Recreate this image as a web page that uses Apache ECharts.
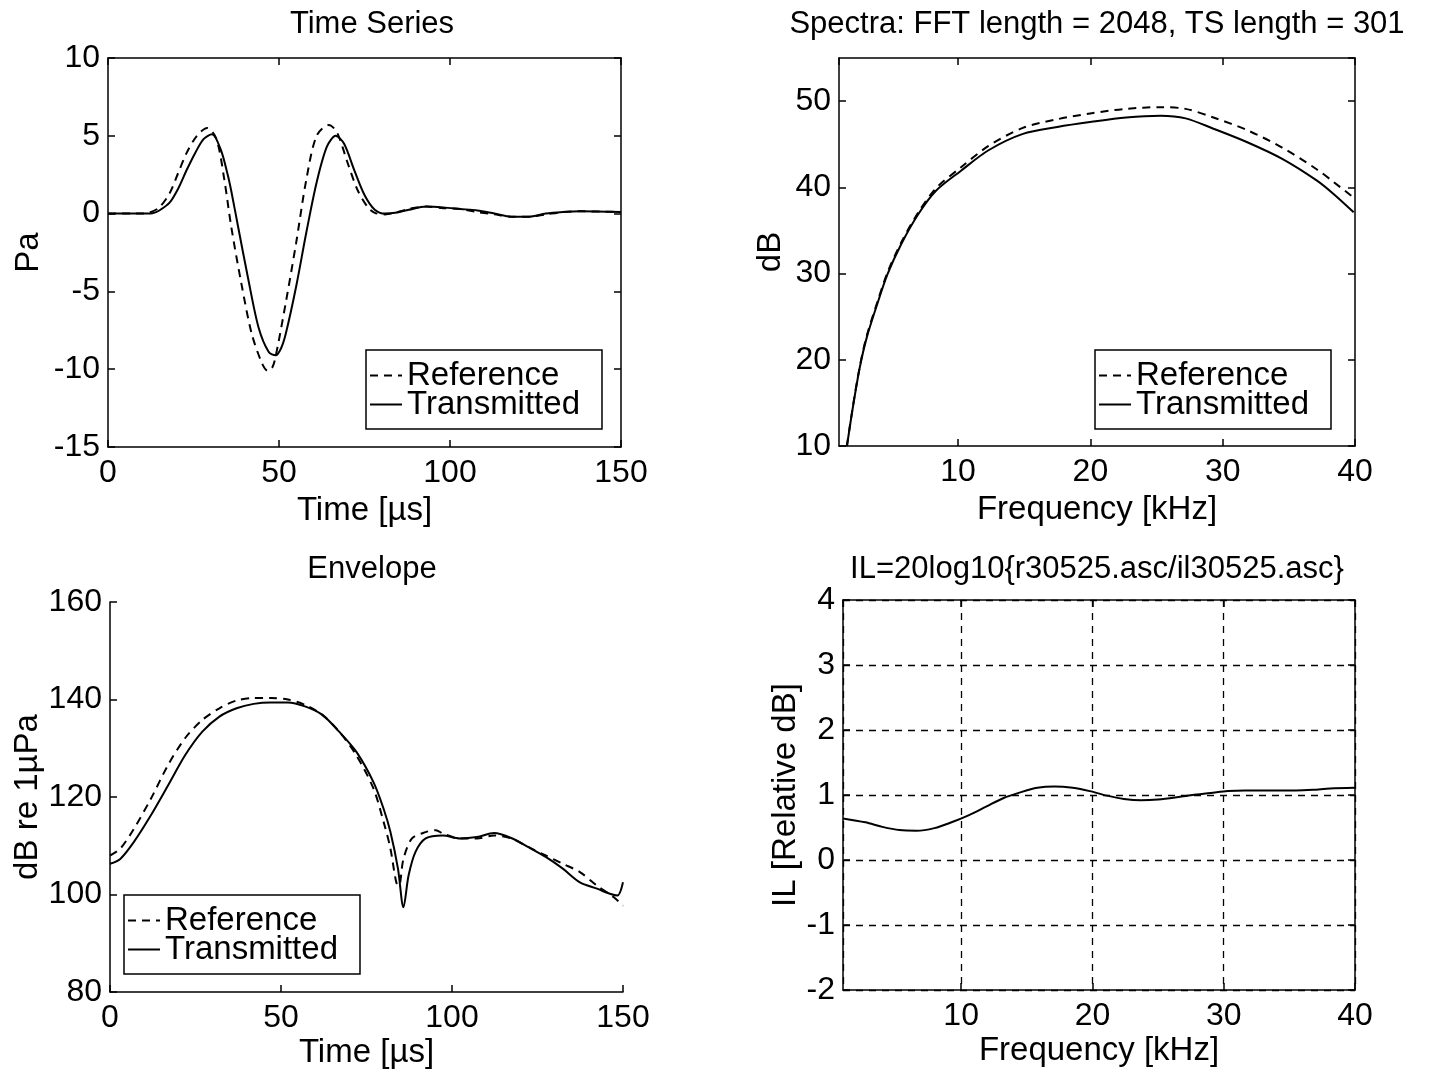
<!DOCTYPE html>
<html>
<head>
<meta charset="utf-8">
<script src="https://cdn.jsdelivr.net/npm/echarts@6/dist/echarts.min.js"></script>
<style>
  html, body { margin: 0; padding: 0; background: #fff; }
  #main { width: 1440px; height: 1072px; }
</style>
</head>
<body>
<div id="main"></div>
<script>
// time series [us] / [Pa]
const tsTimeRef = [0, 10, 12, 15, 18, 20.5, 23, 26, 29, 31.7, 34, 36, 39, 42, 45, 46.7, 48, 49, 52, 55, 58, 61, 64.6, 67, 70, 73, 76, 78, 81, 84, 88, 93, 98, 103, 108, 113, 118, 123, 128, 133, 138, 150];
const tsRef = [0, 0, 0.05, 0.4, 1.3, 2.6, 3.9, 5.0, 5.5, 4.8, 2.2, -0.8, -4.5, -7.7, -9.6, -10.1, -9.9, -9.2, -5.7, -1.9, 2.2, 5.0, 5.7, 5.2, 3.3, 1.5, 0.4, 0.05, -0.05, 0.05, 0.3, 0.45, 0.35, 0.3, 0.1, -0.05, -0.2, -0.2, -0.05, 0.1, 0.15, 0.1];
const tsTimeTr = [0, 10, 13, 15, 18, 20.5, 23, 25.5, 28, 30.4, 33, 35, 36, 38, 41, 44, 47, 49, 50.5, 52, 55, 58, 61, 64, 66.6, 69, 72, 75, 78, 81, 84, 88, 93, 98, 103, 108, 113, 118, 123, 128, 133, 138, 150];
const tsTr = [0, 0, 0.02, 0.2, 0.7, 1.6, 2.8, 3.9, 4.8, 5.1, 4.1, 2.5, 1.5, -0.8, -4.2, -7.3, -8.9, -9.1, -8.7, -7.7, -4.7, -1.2, 2.0, 4.3, 5.0, 4.5, 2.8, 1.2, 0.25, 0, 0.05, 0.25, 0.45, 0.4, 0.3, 0.2, 0, -0.2, -0.2, 0, 0.1, 0.15, 0.1];

// spectra [kHz] / [dB]
const spFreqRef = [1.6, 2.05, 2.57, 3.1, 3.9, 4.66, 5.7, 7.0, 8.33, 10.2, 12.3, 14.9, 17.5, 20.1, 22.7, 25.3, 27.2, 29.3, 31.9, 34.5, 37.1, 38.4, 39.9];
const spRef = [10, 14.6, 19.2, 22.8, 26.7, 30.1, 33.6, 37.1, 39.9, 42.3, 44.8, 46.9, 47.9, 48.6, 49.1, 49.3, 49.1, 48.1, 46.6, 44.6, 42.1, 40.6, 38.8];
const spFreqTr = [1.6, 2.05, 2.57, 3.1, 3.9, 4.66, 5.7, 7.0, 8.33, 10.2, 12.3, 14.9, 17.5, 20.1, 22.7, 25.3, 27.2, 29.3, 31.9, 34.5, 37.1, 38.4, 39.9];
const spTr = [10, 14.5, 19.1, 22.6, 26.5, 29.9, 33.4, 36.9, 39.6, 41.9, 44.3, 46.2, 47.0, 47.6, 48.1, 48.3, 48.0, 46.8, 45.2, 43.3, 40.8, 39.2, 37.1];

// envelope [us] / [dB re 1uPa]
const envTimeRef = [0, 3, 7, 12, 17, 22, 27, 32, 37, 42, 47, 52, 57, 62, 67, 72, 77, 80, 82, 83.7, 84.5, 85.8, 88.3, 92.3, 95.3, 97.3, 102.3, 107.3, 112.3, 117.3, 122.4, 127.4, 132.4, 137.4, 142.4, 147.4, 150];
const envRef = [108, 109.4, 113.5, 119.7, 126.6, 132.1, 135.8, 138.2, 139.8, 140.3, 140.3, 140.0, 138.9, 136.9, 133.4, 128.6, 121.8, 114.9, 109.4, 102.5, 101.8, 107.3, 111.5, 112.8, 113.2, 112.5, 111.5, 111.5, 112.1, 111.5, 109.7, 108, 106.3, 104.6, 101.8, 99.4, 97.7];
const envTimeTr = [0, 3, 7, 12, 17, 22, 27, 32, 37, 42, 47, 52, 57, 62, 67, 72, 77, 80, 82, 84.2, 85.8, 87.3, 89.3, 92.3, 97.3, 102.3, 107.3, 112.3, 117.3, 122.4, 127.4, 132.4, 137.4, 142.4, 146.4, 148.4, 150];
const envTr = [106.3, 107.3, 110.8, 116.3, 122.4, 128.6, 133.4, 136.5, 138.2, 139.1, 139.4, 139.4, 138.6, 136.9, 133.4, 129.3, 123.1, 117.6, 112.8, 105.3, 97.4, 103.9, 108.7, 111.5, 112.1, 111.5, 111.8, 112.6, 111.6, 109.7, 107.7, 105.3, 102.5, 101.2, 100.1, 99.8, 102.5];

// insertion loss [kHz] / [relative dB]
const ilFreq = [1, 2.7, 4.0, 5.3, 6.6, 7.96, 9.27, 10.6, 11.9, 13.2, 14.5, 15.8, 17.1, 18.5, 19.8, 21.1, 22.4, 23.7, 25.0, 26.3, 27.6, 29.0, 30.3, 31.6, 32.9, 34.2, 35.5, 36.8, 38.1, 40];
const ilVal = [0.64, 0.58, 0.51, 0.46, 0.45, 0.49, 0.58, 0.69, 0.82, 0.95, 1.04, 1.11, 1.13, 1.11, 1.06, 0.99, 0.94, 0.92, 0.93, 0.96, 1.0, 1.03, 1.06, 1.07, 1.07, 1.07, 1.07, 1.08, 1.10, 1.11];

const font = 'Liberation Sans, Arial, Helvetica, sans-serif';
const black = '#000';
const tickFont = 32;
const nameFont = 33;

function pairs(xs, ys) {
    return xs.map(function (x, i) { return [x, ys[i]]; });
}

function xAx(grid, o, side) {
    const main = side !== 'top';
    return Object.assign({
        type: 'value', gridIndex: grid, position: main ? 'bottom' : 'top',
        axisLine: { show: true, onZero: false, lineStyle: { color: black, width: 1.5 } },
        axisTick: { show: true, inside: true, length: 7, lineStyle: { color: black, width: 1.5 } },
        axisLabel: { show: main, color: black, fontSize: tickFont, fontFamily: font, margin: 10 },
        splitLine: { show: false },
        nameLocation: 'middle', nameGap: 46,
        nameTextStyle: { color: black, fontSize: nameFont, fontFamily: font }
    }, o, main ? {} : { name: '' });
}

function yAx(grid, o, side) {
    const main = side !== 'right';
    return Object.assign({
        type: 'value', gridIndex: grid, position: main ? 'left' : 'right',
        axisLine: { show: true, onZero: false, lineStyle: { color: black, width: 1.5 } },
        axisTick: { show: true, inside: true, length: 7, lineStyle: { color: black, width: 1.5 } },
        axisLabel: { show: main, color: black, fontSize: tickFont, fontFamily: font, margin: 8 },
        splitLine: { show: false },
        nameLocation: 'middle', nameRotate: 90,
        nameTextStyle: { color: black, fontSize: nameFont, fontFamily: font }
    }, o, main ? {} : { name: '' });
}

function kHzLabel(v) {
    return v % 10 === 0 ? String(v) : '';
}

const gridDash = { show: true, lineStyle: { color: black, width: 1.3, type: [7, 6] } };

function line(name, xi, yi, data, dashed) {
    return {
        name: name, type: 'line', xAxisIndex: xi, yAxisIndex: yi,
        data: data, symbol: 'none', smooth: 0.3,
        lineStyle: { color: black, width: 2, type: dashed ? [8, 6] : 'solid' },
        itemStyle: { color: black }
    };
}

function legendAt(left, top) {
    return {
        orient: 'vertical', left: left, top: top,
        data: ['Reference', 'Transmitted'],
        borderColor: black, borderWidth: 1.5, borderRadius: 0,
        padding: [9, 22, 8, 3], itemGap: -4,
        itemWidth: 32, itemHeight: 16,
        itemStyle: { opacity: 0 },
        textStyle: { color: black, fontSize: 33, fontFamily: font }
    };
}

const titleStyle = { color: black, fontSize: 31, fontWeight: 'normal', fontFamily: font };

const option = {
    animation: false,
    backgroundColor: '#fff',
    title: [
        { text: 'Time Series', left: 367, top: 4, textAlign: 'center', textStyle: titleStyle },
        { text: 'Spectra: FFT length = 2048, TS length = 301', left: 1092, top: 4, textAlign: 'center', textStyle: titleStyle },
        { text: 'Envelope', left: 367, top: 549, textAlign: 'center', textStyle: titleStyle },
        { text: 'IL=20log10{r30525.asc/il30525.asc}', left: 1092, top: 549, textAlign: 'center', textStyle: titleStyle }
    ],
    grid: [
        { left: 108, top: 58, width: 513, height: 389 },
        { left: 839, top: 58, width: 516, height: 388 },
        { left: 110, top: 602, width: 513, height: 390 },
        { left: 843, top: 600, width: 512, height: 390 }
    ],
    legend: [legendAt(366, 350), legendAt(1095, 350), legendAt(124, 895)],
    xAxis: [
        xAx(0, { min: 0, max: 150, interval: 50, name: 'Time [\u00b5s]', nameGap: 47 }),
        xAx(1, { min: 1, max: 40, name: 'Frequency [kHz]', nameGap: 47, axisLabel: { color: black, fontSize: tickFont, fontFamily: font, margin: 10, showMinLabel: false, formatter: kHzLabel } }),
        xAx(2, { min: 0, max: 150, interval: 50, name: 'Time [\u00b5s]', nameGap: 44 }),
        xAx(3, { min: 1, max: 40, name: 'Frequency [kHz]', nameGap: 44, splitLine: gridDash, axisLabel: { color: black, fontSize: tickFont, fontFamily: font, margin: 10, showMinLabel: false, formatter: kHzLabel } }),
        xAx(0, { min: 0, max: 150, interval: 50 }, 'top'),
        xAx(1, { min: 1, max: 40 }, 'top'),
        xAx(3, { min: 1, max: 40 }, 'top')
    ],
    yAxis: [
        yAx(0, { min: -15, max: 10, interval: 5, name: 'Pa', nameGap: 63 }),
        yAx(1, { min: 10, max: 55, interval: 10, name: 'dB', nameGap: 52, axisLabel: { color: black, fontSize: tickFont, fontFamily: font, margin: 8, showMaxLabel: false } }),
        yAx(2, { min: 80, max: 160, interval: 20, name: 'dB re 1\u00b5Pa', nameGap: 65 }),
        yAx(3, { min: -2, max: 4, interval: 1, name: 'IL [Relative dB]', nameGap: 40, splitLine: gridDash }),
        yAx(0, { min: -15, max: 10, interval: 5 }, 'right'),
        yAx(1, { min: 10, max: 55, interval: 10 }, 'right'),
        yAx(3, { min: -2, max: 4, interval: 1 }, 'right')
    ],
    series: [
        line('Reference', 0, 0, pairs(tsTimeRef, tsRef), true),
        line('Transmitted', 0, 0, pairs(tsTimeTr, tsTr), false),
        line('Reference', 1, 1, pairs(spFreqRef, spRef), true),
        line('Transmitted', 1, 1, pairs(spFreqTr, spTr), false),
        line('Reference', 2, 2, pairs(envTimeRef, envRef), true),
        line('Transmitted', 2, 2, pairs(envTimeTr, envTr), false),
        line('IL', 3, 3, pairs(ilFreq, ilVal), false)
    ]
};

const chart = echarts.init(document.getElementById('main'));
chart.setOption(option);
</script>
</body>
</html>
